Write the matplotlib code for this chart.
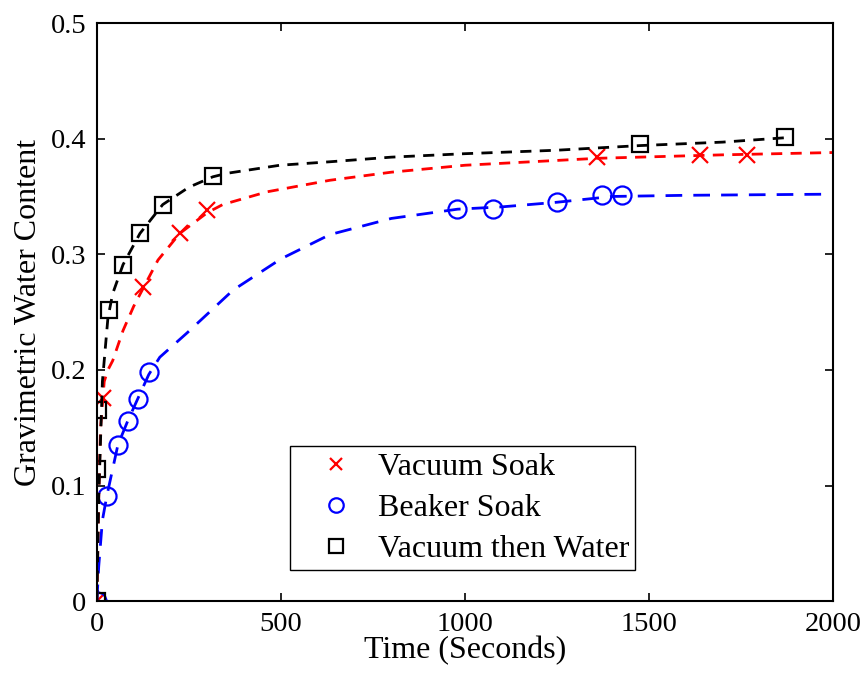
import numpy as np
import matplotlib.pyplot as plt

# measured points
vac_t = [0, 16, 125, 225, 299, 1358, 1638, 1766]
vac_w = [0, 0.176, 0.272, 0.318, 0.338, 0.384, 0.386, 0.386]

beak_t = [0, 27, 57, 84, 111, 141, 978, 1076, 1250, 1372, 1426]
beak_w = [0, 0.091, 0.135, 0.156, 0.175, 0.198, 0.339, 0.339, 0.345, 0.351, 0.351]

vw_t = [0, 0, 3, 33, 71, 117, 179, 315, 1475, 1869]
vw_w = [0, 0.114, 0.165, 0.252, 0.291, 0.318, 0.343, 0.368, 0.395, 0.401]

# fitted curves
vac_fit_t = [0, 5, 10, 20, 30, 43, 71, 100, 166, 225, 300, 342, 462, 633, 800, 1000, 1360, 1700, 2000]
vac_fit_w = [0, 0.09, 0.15, 0.19, 0.20, 0.208, 0.234, 0.255, 0.295, 0.318, 0.336, 0.343, 0.354, 0.364, 0.371, 0.377, 0.383, 0.386, 0.388]

beak_fit_t = [0, 5, 15, 27, 57, 84, 111, 141, 171, 245, 370, 500, 633, 800, 980, 1100, 1250, 1400, 1600, 2000]
beak_fit_w = [0, 0.03, 0.07, 0.091, 0.135, 0.156, 0.175, 0.196, 0.211, 0.232, 0.269, 0.296, 0.317, 0.331, 0.339, 0.341, 0.345, 0.350, 0.351, 0.352]

vw_fit_t = [0, 5, 15, 30, 43, 71, 117, 179, 250, 315, 353, 497, 633, 800, 1000, 1250, 1475, 1700, 1880]
vw_fit_w = [0, 0.09, 0.19, 0.245, 0.266, 0.291, 0.318, 0.343, 0.358, 0.367, 0.370, 0.377, 0.380, 0.384, 0.387, 0.390, 0.394, 0.397, 0.401]

plt.rcParams['font.family'] = ['Liberation Serif', 'DejaVu Serif']
fig = plt.figure(figsize=(8.65, 6.77), dpi=100)
ax = fig.add_axes([0.112, 0.112, 0.851, 0.854])

ax.plot(vac_t, vac_w, 'x', color='red', markersize=11, markeredgewidth=1.6, label='Vacuum Soak')
ax.plot(beak_t, beak_w, 'o', color='blue', markersize=13, markeredgewidth=1.6, fillstyle='none', label='Beaker Soak')
ax.plot(vw_t, vw_w, 's', color='black', markersize=12, markeredgewidth=1.6, fillstyle='none', label='Vacuum then Water')

ax.plot(vac_fit_t, vac_fit_w, '--', color='red', linewidth=2, dashes=(4, 3))
ax.plot(beak_fit_t, beak_fit_w, '--', color='blue', linewidth=2, dashes=(6, 4))
ax.plot(vw_fit_t, vw_fit_w, '--', color='black', linewidth=2, dashes=(4, 3))

ax.set_xlim(0, 2000)
ax.set_ylim(0, 0.5)
ax.set_xticks([0, 500, 1000, 1500, 2000])
ax.set_yticks([0, 0.1, 0.2, 0.3, 0.4, 0.5])
ax.set_yticklabels(['0', '0.1', '0.2', '0.3', '0.4', '0.5'])
ax.tick_params(direction='in', top=True, right=True, labelsize=20.5, length=6, width=1.2)
ax.tick_params(axis='x', pad=8)
ax.tick_params(axis='y', pad=7.5)
for s in ax.spines.values():
    s.set_linewidth(1.5)

ax.set_xlabel('Time (Seconds)', fontsize=23, labelpad=-1)
ax.set_ylabel('Gravimetric Water Content', fontsize=23, labelpad=6)

leg = ax.legend(loc='lower left', bbox_to_anchor=(0.262, 0.0536), fontsize=23, fancybox=False,
                edgecolor='black', framealpha=1, borderpad=0.2, labelspacing=0.36,
                handletextpad=0.05, handlelength=2.5, borderaxespad=0, markerscale=0.8)
leg.get_frame().set_linewidth(1.0)

fig.savefig('out.png', dpi=100)
